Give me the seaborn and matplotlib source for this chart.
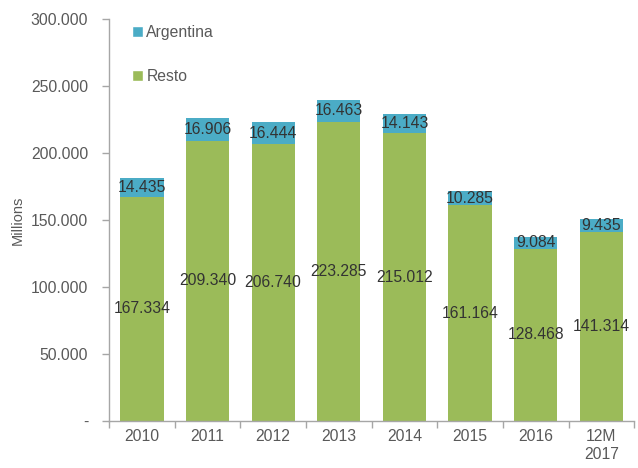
import matplotlib
matplotlib.use("Agg")
import matplotlib.pyplot as plt
import seaborn as sns
import pandas as pd
from matplotlib.patches import Patch
from matplotlib.ticker import FuncFormatter, FixedLocator

categories = ["2010", "2011", "2012", "2013", "2014", "2015", "2016", "12M\n2017"]
resto = [167334, 209340, 206740, 223285, 215012, 161164, 128468, 141314]
argentina = [14435, 16906, 16444, 16463, 14143, 10285, 9084, 9435]

GREEN = "#9BBB59"
TEAL = "#4BACC6"
TICK_COLOR = "#595959"
LABEL_COLOR = "#333333"
SPINE = "#A6A6A6"

sns.set_style("white")
plt.rcParams["font.family"] = ["Liberation Sans", "DejaVu Sans"]

df = pd.DataFrame({"cat": categories, "Resto": resto, "Argentina": argentina})
df["Total"] = df["Resto"] + df["Argentina"]

fig = plt.figure(figsize=(6.38, 4.68), dpi=100)
ax = fig.add_axes([0.171, 0.1004, 0.823, 0.8586])

sns.barplot(data=df, x="cat", y="Total", color=TEAL, width=0.66, ax=ax,
            saturation=1, order=categories, linewidth=0)
sns.barplot(data=df, x="cat", y="Resto", color=GREEN, width=0.66, ax=ax,
            saturation=1, order=categories, linewidth=0)

def fmt(v):
    return f"{v:,.0f}".replace(",", ".")

for i, (r, a) in enumerate(zip(resto, argentina)):
    ax.text(i, r / 2, fmt(r), ha="center", va="center", fontsize=11.3, color=LABEL_COLOR)
    ax.text(i, r + a / 2, fmt(a), ha="center", va="center", fontsize=11.3, color=LABEL_COLOR)

ax.set_ylim(0, 300000)
ax.set_xlim(-0.5, len(categories) - 0.5)
ax.yaxis.set_major_locator(FixedLocator([0, 50000, 100000, 150000, 200000, 250000, 300000]))
ax.yaxis.set_major_formatter(FuncFormatter(lambda v, p: "-" if v == 0 else fmt(v)))

ax.set_xlabel("")
ax.set_ylabel("Millions", fontsize=10.5, color=TICK_COLOR, labelpad=4)

ax.tick_params(axis="y", which="major", direction="out", length=5, width=1,
               color=SPINE, labelsize=11.3, labelcolor=TICK_COLOR, pad=10, left=True)
ax.tick_params(axis="x", which="major", length=0, labelsize=11.3,
               labelcolor=TICK_COLOR, pad=6)
ax.xaxis.set_minor_locator(FixedLocator([i - 0.5 for i in range(len(categories) + 1)]))
ax.tick_params(axis="x", which="minor", direction="out", length=5, width=1,
               color=SPINE, bottom=True)

for s in ["top", "right"]:
    ax.spines[s].set_visible(False)
for s in ["left", "bottom"]:
    ax.spines[s].set_color(SPINE)
    ax.spines[s].set_linewidth(1)

handles = [Patch(facecolor=TEAL, label="Argentina"), Patch(facecolor=GREEN, label="Resto")]
leg = ax.legend(handles=handles, loc="upper left", bbox_to_anchor=(0.017, 1.02), frameon=False,
                fontsize=11.3, labelcolor=TICK_COLOR, handlelength=0.7, handleheight=0.7,
                handletextpad=0.2, labelspacing=1.8)

fig.savefig("out.png", dpi=100)
